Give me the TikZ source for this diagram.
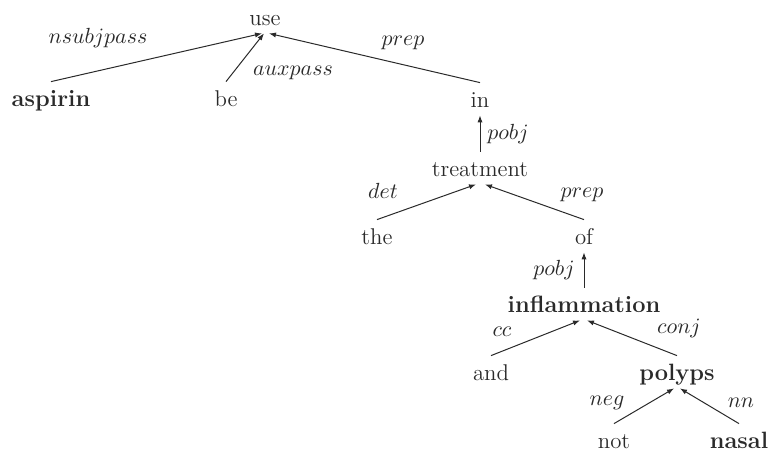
\documentclass[tikz,border=0pt]{standalone}
\usetikzlibrary{arrows.meta,calc}
\definecolor{ink}{HTML}{2A2A2A}
\begin{document}
\begin{tikzpicture}[x=0.5pt,y=-0.5pt,
  font=\fontsize{11.4}{13}\selectfont, color=ink,
  word/.style={anchor=base, text height=8pt, text depth=0pt, inner xsep=1pt, inner ysep=4pt},
  bword/.style={word, font=\fontsize{11.8}{13}\selectfont\bfseries},
  rel/.style={anchor=base, inner sep=0pt},
  dep/.style={draw=ink, line width=0.5pt, -{Latex[length=3.5pt,width=2.6pt]}}]
\useasboundingbox (0,0) rectangle (768,452);
% words
\node[word]  (use)   at (265,25)  {use};
\node[bword] (asp)   at (51,106)  {aspirin};
\node[word]  (be)    at (226,106) {be};
\node[word]  (in)    at (480,107) {in};
\node[word]  (treat) at (480,176) {treatment};
\node[word]  (the)   at (377,244) {the};
\node[word]  (of)    at (584,244) {of};
\node[bword] (infl)  at (584,312) {inflammation};
\node[word]  (and)   at (491,380) {and};
\node[bword] (pol)   at (677,380) {polyps};
\node[word]  (not)   at (614,448) {not};
\node[bword] (nas)   at (739,448) {nasal};
% relation labels
\node[rel] (l1)  at (98,43)   {$nsubjpass$};
\node[rel] (l2)  at (293,75)  {$auxpass$};
\node[rel] (l3)  at (403,45)  {$prep$};
\node[rel] (l4)  at (508,139) {$pobj$};
\node[rel] (l5)  at (383,198) {$det$};
\node[rel] (l6)  at (582,197) {$prep$};
\node[rel] (l7)  at (554,275) {$pobj$};
\node[rel] (l8)  at (502,336) {$cc$};
\node[rel] (l9)  at (679,333) {$conj$};
\node[rel] (l10) at (607,405) {$neg$};
\node[rel] (l11) at (741,407) {$nn$};
% dependencies
\draw[dep] (asp.north)   -- ($(use.south)+(-3,0)$);
\draw[dep] (be.north)    -- ($(use.south)+(-1,0)$);
\draw[dep] (in.north)    -- ($(use.south)+(4,0)$);
\draw[dep] (treat.north) -- (in.south);
\draw[dep] (the.north)   -- ($(treat.south)+(-4,0)$);
\draw[dep] (of.north)    -- ($(treat.south)+(5,0)$);
\draw[dep] (infl.north)  -- (of.south);
\draw[dep] (and.north)   -- ($(infl.south)+(-4,0)$);
\draw[dep] (pol.north)   -- ($(infl.south)+(3,0)$);
\draw[dep] (not.north)   -- ($(pol.south)+(-3,0)$);
\draw[dep] (nas.north)   -- ($(pol.south)+(3,0)$);
\end{tikzpicture}
\end{document}
